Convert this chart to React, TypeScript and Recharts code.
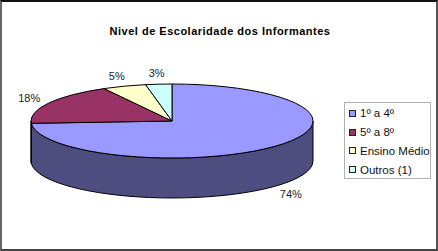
import { Legend, Pie, PieChart, Sector } from 'recharts';

const categories = ['1º a 4º', '5º a 8º', 'Ensino Médio', 'Outros (1)'];
const shares = [74, 18, 5, 3];
const topColors = ['#9999FF', '#993366', '#FFFFCC', '#CCFFFF'];
const wallColors = ['#4D4D80', '#4D1A33', '#808066', '#668080'];

const chartData = categories.map((name, i) => ({ name, value: shares[i], fill: topColors[i], wall: wallColors[i] }));

const WIDTH = 438;
const HEIGHT = 251;
const CX = 172;
const CY = 121;
const RX = 141;
const RY = 37;
const DEPTH = 40;
const RAD = Math.PI / 180;
const FONT = '"Liberation Sans", Arial, sans-serif';

// la parte superior es un sector normal aplastado en vertical
const TopSlice = (props: any) => {
  const { cx, cy, fill } = props;
  return (
    <g transform={`translate(${cx} ${cy}) scale(1 ${RY / RX}) translate(${-cx} ${-cy})`}>
      <Sector {...props} fill={fill} stroke="#000" strokeWidth={1} style={{ vectorEffect: 'non-scaling-stroke' }} />
    </g>
  );
};

// pared lateral: solo el tramo del arco que queda en la mitad de abajo
const WallSlice = (props: any) => {
  const { cx, cy, startAngle, endAngle, payload } = props;
  const lo = Math.min(startAngle, endAngle);
  const hi = Math.max(startAngle, endAngle);
  const a0 = Math.max(lo, -180);
  const a1 = Math.min(hi, 0);
  if (a1 <= a0) return <g />;
  const px = (a: number) => cx + RX * Math.cos(a * RAD);
  const py = (a: number) => cy - RY * Math.sin(a * RAD);
  const d = [
    `M${px(a0)} ${py(a0)}`,
    `A${RX} ${RY} 0 0 0 ${px(a1)} ${py(a1)}`,
    `L${px(a1)} ${py(a1) + DEPTH}`,
    `A${RX} ${RY} 0 0 1 ${px(a0)} ${py(a0) + DEPTH}`,
    'Z',
  ].join(' ');
  return <path d={d} fill={payload.wall} stroke="#000" strokeWidth={1} />;
};

const renderLabel = (props: any) => {
  const { cx, cy, midAngle, value } = props;
  const c = Math.cos(midAngle * RAD);
  const s = Math.sin(midAngle * RAD);
  const x = cx + (RX + 22) * c;
  const y = cy - (RY + 11) * s + (s < 0 ? DEPTH : 0);
  return (
    <text
      x={x}
      y={y}
      textAnchor="middle"
      dominantBaseline="central"
      fontFamily={FONT}
      fontSize={11}
      fill="#222"
    >
      {`${value}%`}
    </text>
  );
};

const LegendBox = () => (
  <div
    style={{
      width: 87,
      height: 77,
      boxSizing: 'border-box',
      border: '1px solid #b0b0b0',
      background: '#fff',
      padding: '1px 0 0 4px',
      fontFamily: FONT,
      fontSize: 11.5,
      color: '#111',
    }}
  >
    {chartData.map((item) => (
      <div key={item.name} style={{ display: 'flex', alignItems: 'center', height: 18.8, whiteSpace: 'nowrap' }}>
        <span
          style={{
            display: 'inline-block',
            width: 5,
            height: 5,
            marginRight: 4,
            border: '1px solid #222',
            background: item.fill,
          }}
        />
        {item.name}
      </div>
    ))}
  </div>
);

export default function App() {
  return (
    <div
      style={{
        position: 'absolute',
        left: 0,
        top: 0,
        width: WIDTH,
        height: HEIGHT,
        boxSizing: 'border-box',
        background: '#fff',
        borderTop: '2px solid #111',
        borderRight: '2px solid #555',
        borderBottom: '2px solid #444',
        borderLeft: '2px solid #666',
      }}
    >
      <div style={{ position: 'absolute', left: -2, top: -2 }}>
        <PieChart width={WIDTH} height={HEIGHT} margin={{ top: 0, right: 0, bottom: 0, left: 0 }}>
          <text
            x={220}
            y={31}
            textAnchor="middle"
            dominantBaseline="central"
            fontFamily={FONT}
            fontSize={11}
            fontWeight="bold"
            letterSpacing={0.5}
            fill="#000"
          >
            Nivel de Escolaridade dos Informantes
          </text>
          <Pie
            data={chartData}
            dataKey="value"
            nameKey="name"
            cx={CX}
            cy={CY}
            outerRadius={RX}
            startAngle={90}
            endAngle={-270}
            isAnimationActive={false}
            shape={WallSlice}
            label={false}
            labelLine={false}
            legendType="none"
          />
          <Pie
            data={chartData}
            dataKey="value"
            nameKey="name"
            cx={CX}
            cy={CY}
            outerRadius={RX}
            startAngle={90}
            endAngle={-270}
            isAnimationActive={false}
            shape={TopSlice}
            label={renderLabel}
            labelLine={false}
          />
          <Legend
            content={<LegendBox />}
            layout="vertical"
            align="right"
            verticalAlign="top"
            wrapperStyle={{ left: 344, top: 102, width: 87, fontFamily: FONT }}
          />
        </PieChart>
      </div>
    </div>
  );
}
